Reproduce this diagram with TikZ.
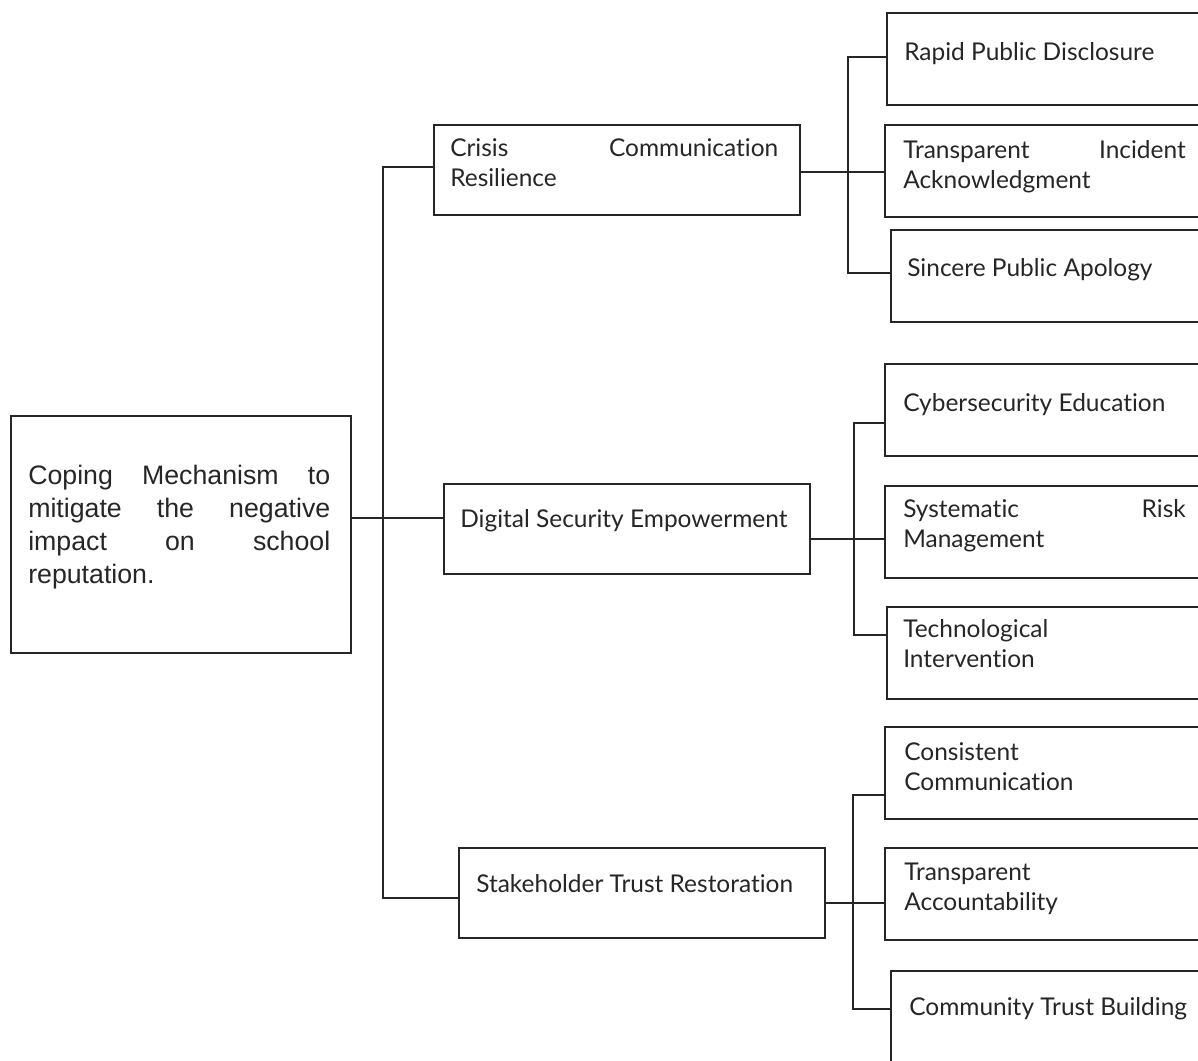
\documentclass[tikz,border=0pt]{standalone}
\usepackage{fontspec}
\setmainfont{Lato}[Ligatures=NoCommon]
\newfontfamily\arialfont{Liberation Sans}

\tikzset{
  box/.style={draw=black!85, line width=1.1pt, anchor=north west, inner sep=0,
    minimum height=92*0.025cm},
  txt/.style={anchor=north west, inner sep=0, align=justify, text=black!85,
    font=\fontsize{17.4}{21.3}\selectfont},
  link/.style={draw=black!85, line width=0.9pt},
}

\begin{document}
\begin{tikzpicture}[x=0.025cm, y=-0.025cm]%
  \clip (0,0) rectangle (1198,1060);
  \node[box, minimum width=340*0.025cm, minimum height=237*0.025cm] (root) at (10,415) {};
  \node[txt, text width=302*0.025cm, font=\arialfont\fontsize{19}{23.5}\selectfont] (root-t) at (28,465)
    {Coping Mechanism to\linebreak mitigate the negative\linebreak impact on school\linebreak reputation.};
  \foreach \n/\bx/\by/\tx/\ty/\w/\t in {
      crisis/433/124/450/138/328/{Crisis Communication\linebreak Resilience},
      digital/443/483/460/509/350/{Digital Security Empowerment},
      stake/458/847/476/874/350/{Stakeholder Trust Restoration}} {
    \node[box, minimum width=366*0.025cm, minimum height=90*0.025cm] (\n) at (\bx,\by) {};
    \node[txt, text width=\w*0.025cm] (\n-t) at (\tx,\ty) {\t};
  }
  \foreach \n/\bx/\by/\tx/\ty/\w/\t in {
      rapid/886/12/904/42/300/{Rapid Public Disclosure},
      incid/884/124/903/140/282.5/{Transparent Incident\linebreak Acknowledgment},
      apol/890/229/907/258/300/{Sincere Public Apology},
      cyber/884/363/903/393/300/{Cybersecurity Education},
      risk/884/485/903/499/282.5/{Systematic Risk\linebreak Management},
      tech/886/606/903/619/300/{Technological\\Intervention},
      cons/884/726/904/742/300/{Consistent\\Communication},
      acct/884/847/904/863/300/{Transparent\\Accountability},
      comm/890/970/909/997/300/{Community Trust Building}} {
    \node[box, minimum width={(1204-\bx)*0.025cm}] (\n) at (\bx,\by) {};
    \node[txt, text width=\w*0.025cm] (\n-t) at (\tx,\ty) {\t};
  }
  % trunk
  \coordinate (t0) at (383,518);
  \coordinate (t1) at (383,167);
  \coordinate (t3) at (383,898);
  \draw[link] (root.east |- t0) -- (digital.west |- t0);
  \draw[link] (crisis.west |- t1) -- (t1) -- (t3) -- (stake.west |- t3);
  % forks
  \coordinate (c0) at (848,172);
  \coordinate (c1) at (848,57);
  \coordinate (c2) at (848,273);
  \draw[link] (crisis.east |- c0) -- (incid.west |- c0);
  \draw[link] (rapid.west |- c1) -- (c1) -- (c2) -- (apol.west |- c2);
  \coordinate (d0) at (854,539);
  \coordinate (d1) at (854,423);
  \coordinate (d2) at (854,635);
  \draw[link] (digital.east |- d0) -- (risk.west |- d0);
  \draw[link] (cyber.west |- d1) -- (d1) -- (d2) -- (tech.west |- d2);
  \coordinate (s0) at (853,903);
  \coordinate (s1) at (853,795);
  \coordinate (s2) at (853,1009);
  \draw[link] (stake.east |- s0) -- (acct.west |- s0);
  \draw[link] (cons.west |- s1) -- (s1) -- (s2) -- (comm.west |- s2);
\end{tikzpicture}
\end{document}
